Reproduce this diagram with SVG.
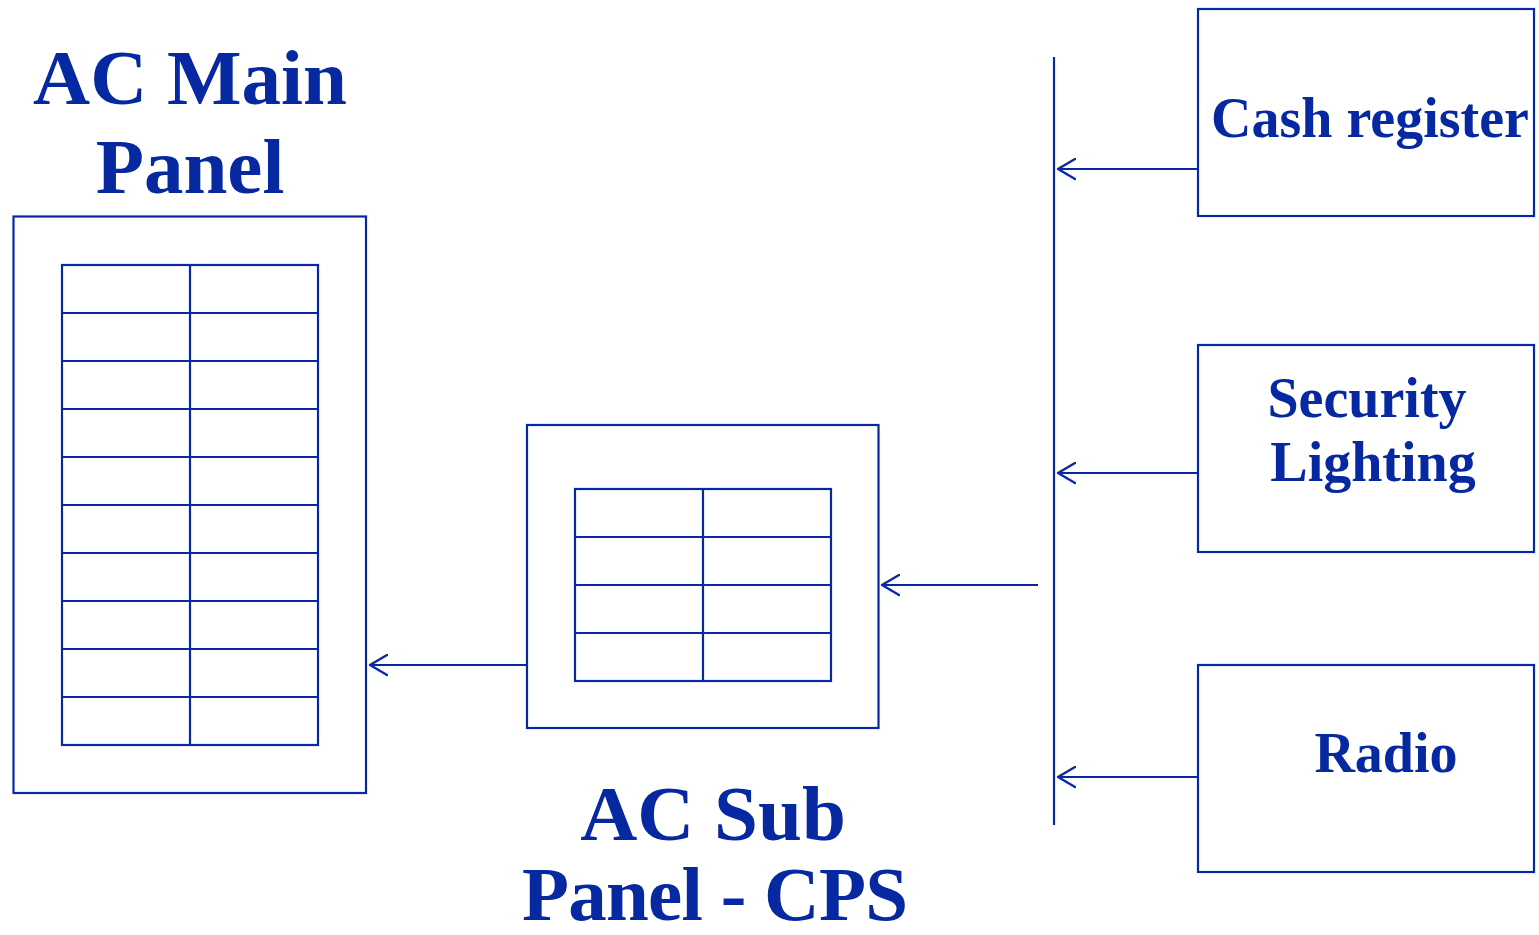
<svg xmlns="http://www.w3.org/2000/svg" width="1539" height="935" viewBox="0 0 1539 935">
<style>
.ln{fill:none;stroke:#0628a0;stroke-width:2.2}
.t{font-family:"Liberation Serif","Times New Roman",serif;font-weight:bold;fill:#0628a0;text-anchor:middle}
.big{font-size:79px}
.mid{font-size:56px}
</style>
<defs>
<marker id="ah" viewBox="0 0 20 24" refX="18" refY="12" markerWidth="20" markerHeight="24" markerUnits="userSpaceOnUse" orient="auto">
<path d="M1,2 L18,12 L1,22" fill="none" stroke="#0628a0" stroke-width="2.4" stroke-linecap="round" stroke-linejoin="round"/>
</marker>
</defs>
<rect width="1539" height="935" fill="#fff"/>
<g id="main-panel">
<rect class="ln" x="13.5" y="216.5" width="352.5" height="576.5"/>
<rect class="ln" x="62" y="265" width="256" height="480"/>
<path class="ln" d="M190,265V745M62,313H318M62,361H318M62,409H318M62,457H318M62,505H318M62,553H318M62,601H318M62,649H318M62,697H318"/>
<text class="t big" x="190" y="104">AC Main</text>
<text class="t big" x="190" y="193">Panel</text>
</g>
<g id="sub-panel">
<rect class="ln" x="527" y="425" width="351.5" height="303"/>
<rect class="ln" x="575" y="489" width="256" height="192"/>
<path class="ln" d="M703,489V681M575,537H831M575,585H831M575,633H831"/>
<text class="t big" x="713" y="840">AC Sub</text>
<text class="t" x="715" y="920" font-size="77" textLength="386" lengthAdjust="spacing">Panel - CPS</text>
</g>
<g id="cash-register">
<rect class="ln" x="1198" y="9" width="336" height="207"/>
<text class="t mid" x="1370" y="137">Cash register</text>
</g>
<g id="security-lighting">
<rect class="ln" x="1198" y="345" width="336" height="207"/>
<text class="t mid" x="1367" y="417">Security</text>
<text class="t mid" x="1373" y="481">Lighting</text>
</g>
<g id="radio">
<rect class="ln" x="1198" y="665" width="336" height="207"/>
<text class="t mid" x="1386" y="772">Radio</text>
</g>
<g id="connectors">
<path class="ln" d="M1054,57V825"/>
<path class="ln" d="M1198,169H1058" marker-end="url(#ah)"/>
<path class="ln" d="M1198,473H1058" marker-end="url(#ah)"/>
<path class="ln" d="M1198,777H1058" marker-end="url(#ah)"/>
<path class="ln" d="M1038,585H882" marker-end="url(#ah)"/>
<path class="ln" d="M527,665H370" marker-end="url(#ah)"/>
</g>
</svg>
